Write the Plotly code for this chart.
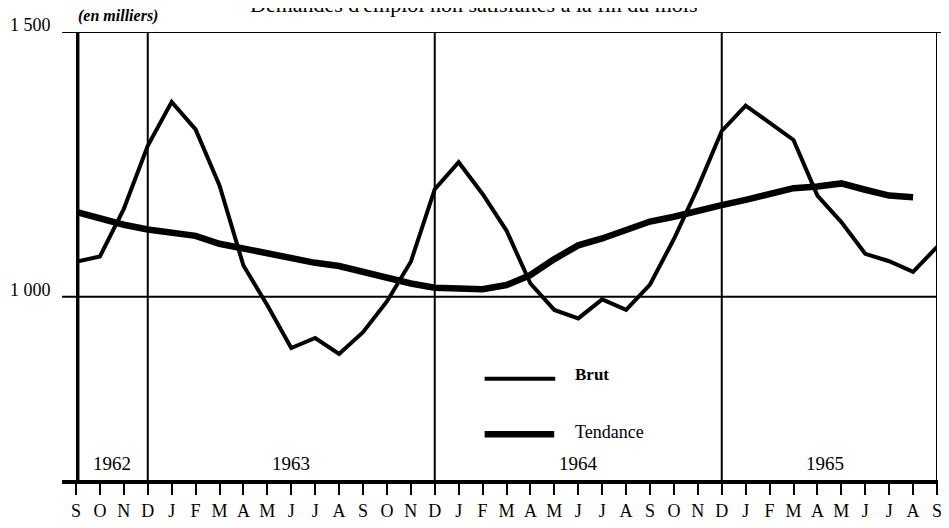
import plotly.graph_objects as go

months = ["S","O","N","D",
          "J","F","M","A","M","J","J","A","S","O","N","D",
          "J","F","M","A","M","J","J","A","S","O","N","D",
          "J","F","M","A","M","J","J","A","S"]
brut = [1066, 1076, 1166, 1285, 1368, 1316, 1210, 1059, 984, 903, 922, 892,
        933, 991, 1066, 1203, 1254, 1194, 1125, 1025, 975, 959, 995, 975,
        1023, 1109, 1206, 1313, 1361, 1329, 1296, 1191, 1141, 1081, 1067, 1047, 1094]
tendance = [1160, 1147, 1136, 1127, 1122, 1115, 1100, 1091, 1081, 1072, 1064, 1058,
            1046, 1034, 1025, 1017, 1014, 1014, 1022, 1041, 1071, 1097, 1110, 1127,
            1142, 1151, 1163, 1173, 1183, 1194, 1205, 1208, 1214, 1202, 1191, 1188]
years = ["1962", "1963", "1964", "1965"]
year_pos = [1.5, 9, 21, 31.3]
year_breaks = [3, 15, 27, 36]
ytick_vals = [1000, 1500]
ytick_text = ["1 000", "1 500"]

SERIF = "Liberation Serif, Times New Roman, serif"
x = list(range(len(months)))

# page has an 8px body margin: figure drawn at (8, 8)
OFF = 8
W, H = 949 - OFF, 528 - OFF
L, R, T, B = 76 - OFF, 7, 32 - OFF, 43
pw, ph = W - L - R, H - T - B


def px(page_x):
    return (page_x - OFF - L) / pw


def py(page_y):
    return 1 - (page_y - OFF - T) / ph


fig = go.Figure()
fig.add_trace(go.Scatter(x=x, y=brut, mode="lines", name="Brut",
                         line=dict(color="black", width=4), showlegend=False))
fig.add_trace(go.Scatter(x=x[:len(tendance)], y=tendance, mode="lines", name="Tendance",
                         line=dict(color="black", width=6.5), showlegend=False))

shapes = []
for b in year_breaks:
    shapes.append(dict(type="line", xref="x", yref="paper", x0=b, x1=b, y0=0, y1=1,
                       line=dict(color="black", width=2), layer="below"))
shapes.append(dict(type="line", xref="x", yref="paper", x0=0.05, x1=0.05, y0=0, y1=1,
                   line=dict(color="black", width=4.5)))
for v in ytick_vals:
    shapes.append(dict(type="line", xref="paper", yref="y", x0=px(62), x1=px(942 if v == 1000 else 946),
                       y0=v, y1=v, line=dict(color="black", width=2)))
shapes.append(dict(type="line", xref="paper", yref="paper", x0=px(62), x1=px(943), y0=0, y1=0,
                   line=dict(color="black", width=4)))
# legend samples
shapes.append(dict(type="line", xref="paper", yref="paper", x0=px(487), x1=px(558),
                   y0=py(381), y1=py(381), line=dict(color="black", width=4)))
shapes.append(dict(type="line", xref="paper", yref="paper", x0=px(487), x1=px(557),
                   y0=py(437), y1=py(437), line=dict(color="black", width=6.5)))

annotations = []
for yr, p in zip(years, year_pos):
    annotations.append(dict(x=p, y=py(466), xref="x", yref="paper", text=yr, showarrow=False,
                            yanchor="middle", font=dict(family=SERIF, size=19, color="black")))
for v, t in zip(ytick_vals, ytick_text):
    page_y = 298.3 - (v - 1000) * 266.3 / 500 - 7
    annotations.append(dict(x=px(53), y=py(page_y), xref="paper", yref="paper", text=t,
                            showarrow=False, xanchor="right", yanchor="middle",
                            font=dict(family=SERIF, size=18, color="black")))
annotations.append(dict(x=px(576), y=py(377), xref="paper", yref="paper", text="<b>Brut</b>",
                        showarrow=False, xanchor="left", yanchor="middle",
                        font=dict(family=SERIF, size=17, color="black")))
annotations.append(dict(x=px(576), y=py(435), xref="paper", yref="paper", text="Tendance",
                        showarrow=False, xanchor="left", yanchor="middle",
                        font=dict(family=SERIF, size=18, color="black")))
annotations.append(dict(x=px(118), y=py(16), xref="paper", yref="paper",
                        text="<b><i>(en milliers)</i></b>",
                        showarrow=False, xanchor="center", yanchor="middle",
                        font=dict(family=SERIF, size=16, color="black")))
annotations.append(dict(x=px(476), y=py(4), xref="paper", yref="paper",
                        text="Demandes d'emploi non satisfaites à la fin du mois",
                        showarrow=False, xanchor="center", yanchor="middle",
                        font=dict(family=SERIF, size=22, color="black")))

fig.update_layout(
    width=W, height=H,
    margin=dict(l=L, r=R, t=T, b=B),
    paper_bgcolor="white", plot_bgcolor="white",
    shapes=shapes, annotations=annotations,
    xaxis=dict(range=[0, 36], tickmode="array", tickvals=x, ticktext=months,
               ticks="outside", ticklen=12, tickwidth=2, tickcolor="black",
               showgrid=False, zeroline=False, showline=False,
               tickfont=dict(family=SERIF, size=18, color="black")),
    yaxis=dict(range=[650, 1500], showticklabels=False, showgrid=False,
               zeroline=False, showline=False, ticks=""),
)
fig.write_html("out.html")
